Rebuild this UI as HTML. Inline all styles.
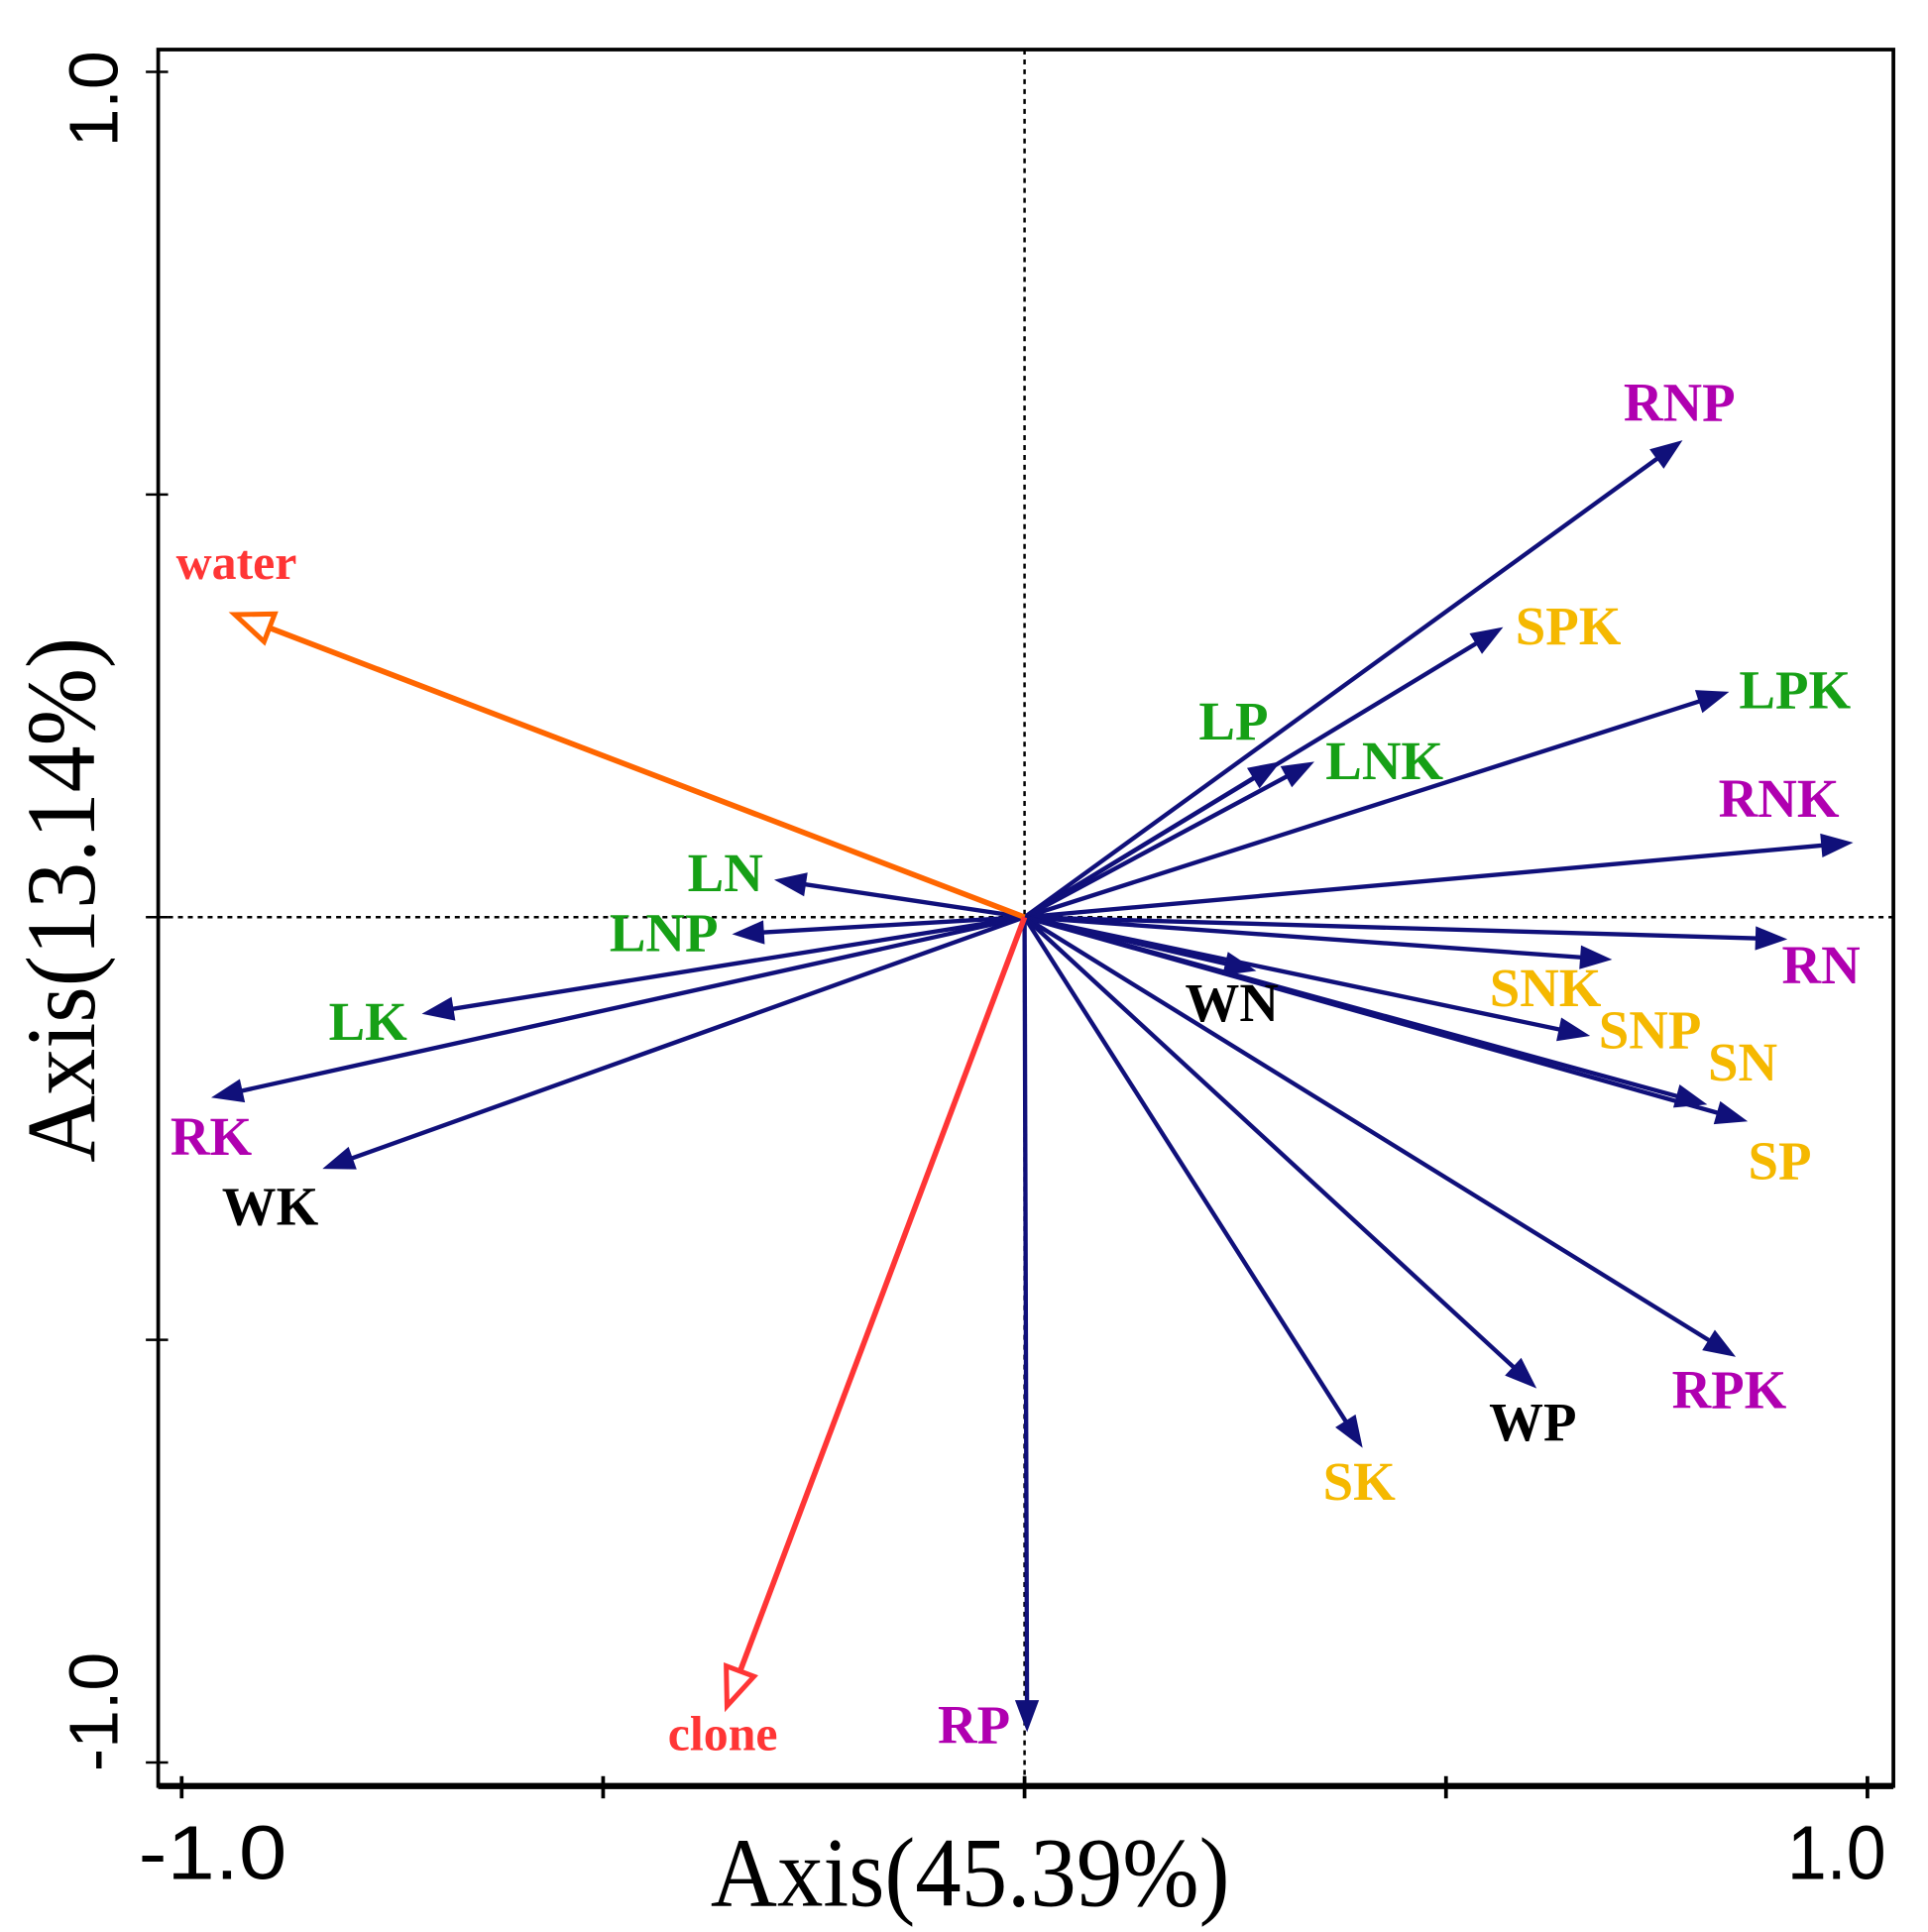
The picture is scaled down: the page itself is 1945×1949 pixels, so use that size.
<!DOCTYPE html>
<html><head><meta charset="utf-8">
<style>
html,body{margin:0;padding:0;background:#fff;}
svg{display:block;}
.lbl{font-family:"Liberation Serif",serif;font-weight:bold;font-size:44px;}
</style></head>
<body>
<svg id="chart" xmlns="http://www.w3.org/2000/svg" width="1945" height="1949" viewBox="0 0 1560 1563">
  <rect x="0" y="0" width="1560" height="1563" fill="#fff"/>
  <g id="grid"></g>
  <g id="arrows"></g>
  <g id="labels"></g>
  <g id="axes"></g>
</svg>
<script>
const speciesNames = ["RNP","SPK","LPK","LP","LNK","RNK","RN","SNK","WN","SNP","SN","SP","RPK","WP","SK","RP","LN","LNP","LK","RK","WK"];
const speciesX = [0.779,0.566,0.834,0.302,0.342,0.981,0.903,0.695,0.273,0.669,0.808,0.856,0.842,0.606,0.400,0.003,-0.295,-0.345,-0.713,-0.963,-0.831];
const speciesY = [0.563,0.342,0.266,0.183,0.183,0.088,-0.026,-0.050,-0.063,-0.140,-0.221,-0.241,-0.519,-0.556,-0.626,-0.962,0.044,-0.020,-0.114,-0.213,-0.297];
const speciesColor = ["#b000b0","#f5b800","#16a016","#16a016","#16a016","#b000b0","#b000b0","#f5b800","#000","#f5b800","#f5b800","#f5b800","#b000b0","#000","#f5b800","#b000b0","#16a016","#16a016","#16a016","#b000b0","#000"];
const labelX = [0.777,0.645,0.914,0.248,0.427,0.895,0.945,0.618,0.246,0.742,0.852,0.896,0.836,0.603,0.397,-0.060,-0.355,-0.428,-0.779,-0.965,-0.895];
const labelY = [0.587,0.323,0.247,0.210,0.163,0.119,-0.078,-0.105,-0.123,-0.155,-0.193,-0.310,-0.581,-0.619,-0.689,-0.977,0.031,-0.040,-0.145,-0.281,-0.364];
const envNames = ["water","clone"];
const envX = [-0.937,-0.353];
const envY = [0.358,-0.933];
const envColor = ["#ff6600","#ff3535"];
const envLabelColor = ["#ff3535","#ff3535"];
const envLabelX = [-0.935,-0.358];
const envLabelY = [0.400,-0.985];
const xTicks = [-1,-0.5,0,0.5,1];
const yTicks = [1,0.5,0,-0.5,-1];
const xTickLabels = ["-1.0","1.0"];
const yTickLabels = ["1.0","-1.0"];

const NS="http://www.w3.org/2000/svg";
const X0=829, XS=682, Y0=742, YS=684;
const sx=v=>X0+v*XS, sy=v=>Y0-v*YS;
function mk(tag,attrs,parent){const e=document.createElementNS(NS,tag);for(const k in attrs)e.setAttribute(k,attrs[k]);parent.appendChild(e);return e;}
const grid=document.getElementById('grid'),arrows=document.getElementById('arrows'),labels=document.getElementById('labels'),axes=document.getElementById('axes');

let g1=mk('line',{x1:sx(0),y1:40,x2:sx(0),y2:1445,stroke:'#000','stroke-width':2,'stroke-dasharray':'4,4'},grid);


let g2=mk('line',{x1:128,y1:sy(0),x2:1532,y2:sy(0),stroke:'#000','stroke-width':2,'stroke-dasharray':'4,4'},grid);



function arrow(x,y,color,open,name){
  const x1=sx(0),y1=sy(0),x2=sx(x),y2=sy(y);
  const dx=x2-x1,dy=y2-y1,L=Math.hypot(dx,dy),ux=dx/L,uy=dy/L;
  const hl=open?30:24, hw=open?12:9;
  const bx=x2-ux*hl,by=y2-uy*hl;
  const g=mk('g',{},arrows);
  
  
  mk('line',{x1:x1,y1:y1,x2:open?bx:x2-ux*10,y2:open?by:y2-uy*10,stroke:color,'stroke-width':open?4.5:3.5},g);
  const pts=`${x2},${y2} ${bx-uy*hw},${by+ux*hw} ${bx+uy*hw},${by-ux*hw}`;
  mk('polygon',{points:pts,fill:open?'#fff':color,stroke:color,'stroke-width':open?4:1},g);
}
function label(x,y,text,color,name,size){
  const t=mk('text',{x:sx(x),y:sy(y),fill:color,'text-anchor':'middle','class':'lbl'},labels);
  if(size)t.setAttribute('style','font-size:'+size+'px');
  t.textContent=text;
  
  
}
for(let i=0;i<speciesNames.length;i++){
  arrow(speciesX[i],speciesY[i],'#10107a',false,'arrow-'+speciesNames[i].toLowerCase());
  label(labelX[i],labelY[i],speciesNames[i],speciesColor[i],'label-'+speciesNames[i].toLowerCase());
}
for(let i=0;i<envNames.length;i++){
  arrow(envX[i],envY[i],envColor[i],true,'arrow-'+envNames[i]);
  label(envLabelX[i],envLabelY[i],envNames[i],envLabelColor[i],'label-'+envNames[i],40);
}

let fr=mk('rect',{x:128,y:40,width:1404,height:1405,fill:'none',stroke:'#000','stroke-width':3},axes);


mk('line',{x1:128,y1:1445,x2:1532,y2:1445,stroke:'#000','stroke-width':5},axes);
xTicks.forEach(v=>{const t=mk('line',{x1:sx(v),y1:1437,x2:sx(v),y2:1455,stroke:'#000','stroke-width':3},axes);

});
yTicks.forEach(v=>{const t=mk('line',{x1:118,y1:sy(v),x2:136,y2:sy(v),stroke:'#000','stroke-width':2},axes);

});
[[xTickLabels[0],-1],[xTickLabels[1],1]].forEach(([s,v],i)=>{
  const t=mk('text',{x:sx(v)+(i?-25:25),y:1520,'text-anchor':'middle','font-family':'Liberation Sans, sans-serif','font-size':62,textLength:i?80:120,lengthAdjust:'spacingAndGlyphs'},axes);
  t.textContent=s;
  
  
});
[[yTickLabels[0],1,80],[yTickLabels[1],-1,1385]].forEach(([s,v,cy])=>{
  const t=mk('text',{x:0,y:0,'text-anchor':'middle','font-family':'Liberation Sans, sans-serif','font-size':56,transform:`translate(95,${cy}) rotate(-90)`},axes);
  t.textContent=s;
  
  
});
let xt=mk('text',{x:785,y:1542,'text-anchor':'middle','font-family':'Liberation Serif, serif','font-size':80,textLength:420,lengthAdjust:'spacingAndGlyphs'},axes);
xt.textContent='Axis(45.39%)';


let yt=mk('text',{x:0,y:0,'text-anchor':'middle','font-family':'Liberation Serif, serif','font-size':80,textLength:425,lengthAdjust:'spacingAndGlyphs',transform:'translate(76,728) rotate(-90)'},axes);
yt.textContent='Axis(13.14%)';


</script>
</body></html>
